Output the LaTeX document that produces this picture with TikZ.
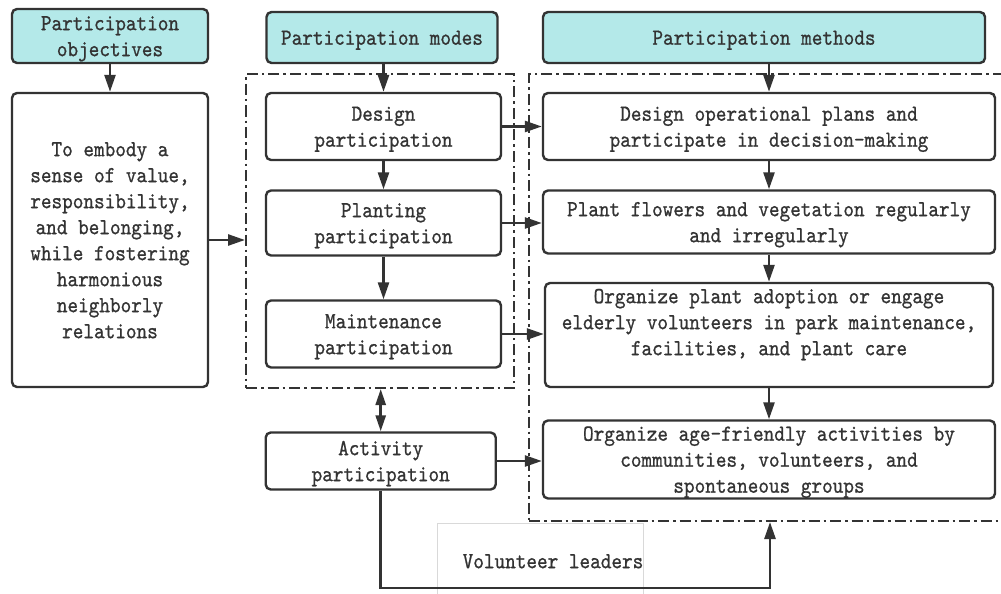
\documentclass[tikz,border=0pt]{standalone}
\usepackage{fontspec}
\newfontfamily\lbl[FakeStretch=0.88,FakeBold=0.8]{lmmono10-regular.otf}
\usetikzlibrary{arrows.meta}
\definecolor{ink}{HTML}{333333}
\definecolor{head}{HTML}{B4E9E9}
\definecolor{frame}{HTML}{D9D9D9}
% stacked, centred lines, set a little lower than their reserved space
\newcommand\lines[1]{\raisebox{-2pt}[\height][\depth]{\begin{tabular}{@{}c@{}}#1\end{tabular}}}

\begin{document}
\begin{tikzpicture}[x=1pt,y=-1pt,
  every node/.style={font=\lbl\fontsize{23}{26}\selectfont, text=ink, inner sep=0pt},
  box/.style={draw=ink, line width=2.4pt, rounded corners=5pt, rectangle, fill=white},
  headbox/.style={box, fill=head},
  ddbox/.style={draw=ink, line width=2pt, dash pattern=on 11pt off 4pt on 2.5pt off 4pt},
  arr/.style={draw=ink, line width=2.6pt, -{Triangle[length=17pt,width=11pt]}},
  darr/.style={draw=ink, line width=2.6pt, {Triangle[length=16pt,width=10pt]}-{Triangle[length=16pt,width=10pt]}},
]
\fill[white] (0,0) rectangle (1001,594);
\useasboundingbox (0,0) rectangle (1001,594);

% dash-dot groupings
\node[ddbox, minimum width=268pt, minimum height=314pt] (dd1) at (380,231) {};
\node[ddbox, minimum width=476pt, minimum height=447pt] (dd2) at (767,297.5) {};

% column headers
\node[headbox, minimum width=196pt, minimum height=54pt] (h1) at (110,36) {\lines{Participation\\objectives}};
\node[headbox, minimum width=231pt, minimum height=51pt] (h2) at (382,37.5) {\lines{Participation modes}};
\node[headbox, minimum width=442pt, minimum height=51pt] (h3) at (764,37.5) {\lines{Participation methods}};

% objectives
\node[box, minimum width=196pt, minimum height=294pt] (obj) at (110,240)
  {\lines{To embody a\\sense of value,\\responsibility,\\and belonging,\\while fostering\\harmonious\\neighborly\\relations}};

% modes
\node[box, minimum width=235pt, minimum height=67pt] (design) at (383.5,126.5) {\lines{Design\\participation}};
\node[box, minimum width=235pt, minimum height=65pt] (planting) at (383.5,223) {\lines{Planting\\participation}};
\node[box, minimum width=235pt, minimum height=67pt] (maint) at (383.5,334) {\lines{Maintenance\\participation}};
\node[box, minimum width=230pt, minimum height=57pt] (act) at (380.7,461) {\lines{Activity\\participation}};

% methods
\node[box, minimum width=452pt, minimum height=67pt] (m1) at (769,126.5)
  {\lines{Design operational plans and\\participate in decision-making}};
\node[box, minimum width=452pt, minimum height=63pt] (m2) at (769,222)
  {\lines{Plant flowers and vegetation regularly\\and irregularly}};
\node[box, minimum width=448pt, minimum height=104pt] (m3) at (769,335)
  {\lines{Organize plant adoption or engage\\elderly volunteers in park maintenance,\\facilities, and plant care\\ \mbox{}}};
\node[box, minimum width=452pt, minimum height=78pt] (m4) at (769,459.5)
  {\lines{Organize age-friendly activities by\\communities, volunteers, and\\spontaneous groups}};

% volunteer leaders label
\node[draw=frame, line width=0.8pt, minimum width=206pt, minimum height=80pt] (vlframe) at (540,563) {};
\node (vl) at (553,561) {\lines{Volunteer leaders}};

% connectors
\draw[arr] (h1) -- (obj);
\draw[arr] (h2.south -| design.north) -- (design.north);
\draw[arr] (h3.south -| m1.north) -- (m1.north);
\draw[arr] (design) -- (planting);
\draw[arr] (planting) -- (maint);
\draw[arr] (m1) -- (m2);
\draw[arr] (m2) -- (m3);
\draw[arr] (m3) -- (m4);
\draw[arr] (obj.east) -- (obj.east -| dd1.west);
\draw[arr] (design.east) -- (design.east -| m1.west);
\draw[arr] (planting.east) -- (planting.east -| m2.west);
\draw[arr] (maint.east) -- (maint.east -| m3.west);
\draw[darr] (dd1.south -| act.north) -- (act.north);
\draw[arr] (act.east) -- (act.east -| m4.west);
\coordinate (vlturn) at (770,588);
\draw[arr] (act.south) |- (vlturn) -- (vlturn |- dd2.south);
\end{tikzpicture}
\end{document}
